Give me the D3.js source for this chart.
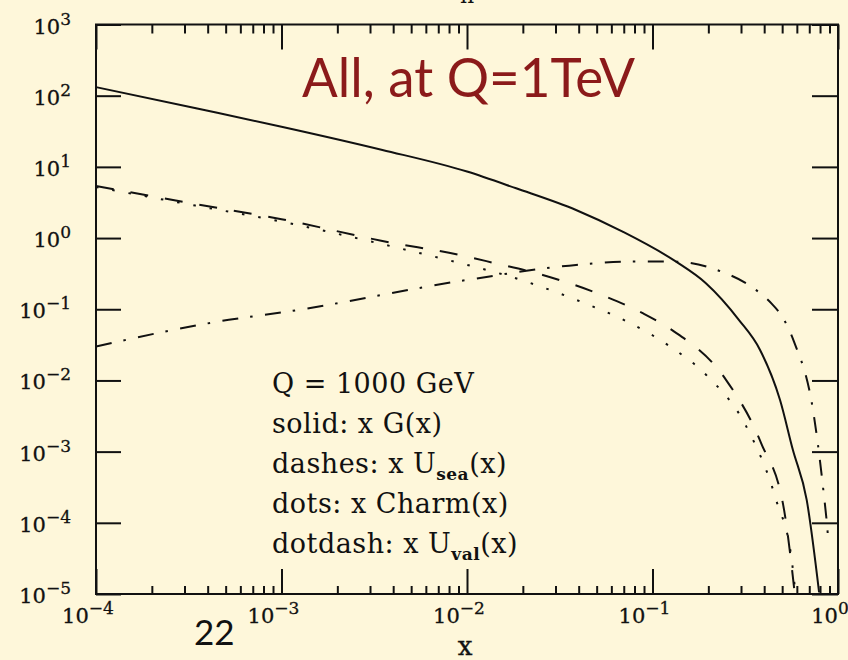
<!DOCTYPE html>
<html>
<head>
<meta charset="utf-8">
<script src="https://cdn.jsdelivr.net/npm/d3@7"></script>
<style>
 body { margin: 0; background: #fef7da; }
 svg { display: block; }
</style>
</head>
<body>
<div id="chart"></div>
<script>
// parton densities at Q = 1 TeV (x, x*f(x))
var gluonX   = [1e-4, 3.46e-4, 1e-3, 3.5e-3, 1e-2, 0.0184, 0.0387, 0.069, 0.134, 0.194, 0.292, 0.380, 0.487, 0.571, 0.678, 0.791];
var gluonY   = [132, 66.5, 36.7, 17.3, 8.6, 5.0, 2.48, 1.23, 0.466, 0.232, 0.071, 0.0268, 5.3e-3, 1.06e-3, 2.1e-4, 1.05e-5];

var useaX    = [1e-4, 3.46e-4, 1e-3, 3.5e-3, 1e-2, 0.0138, 0.0256, 0.0561, 0.0885, 0.127, 0.249, 0.385, 0.512, 0.585];
var useaY    = [5.4, 3.0, 1.84, 0.91, 0.55, 0.45, 0.303, 0.150, 0.088, 0.0512, 0.0102, 1.32e-3, 1.52e-4, 1e-5];

var charmX   = [1e-4, 3.46e-4, 1e-3, 3.5e-3, 1e-2, 0.0162, 0.0422, 0.0738, 0.123, 0.197, 0.319, 0.464, 0.565, 0.59];
var charmY   = [5.2, 2.85, 1.70, 0.82, 0.42, 0.30, 0.124, 0.066, 0.0305, 0.0116, 2.3e-3, 2.1e-4, 2.8e-5, 1e-5];

var uvalX    = [1e-4, 5.2e-4, 1e-3, 1e-2, 0.0387, 0.0785, 0.134, 0.228, 0.361, 0.44, 0.505, 0.579, 0.733, 0.83, 0.88, 0.89];
var uvalY    = [0.030, 0.071, 0.090, 0.258, 0.42, 0.47, 0.466, 0.348, 0.187, 0.119, 0.0755, 0.035, 3.85e-3, 3.2e-4, 7.2e-5, 4.9e-5];

// tick labels (exponents of ten)
var xExponents = [-4, -3, -2, -1, 0];
var yExponents = [3, 2, 1, 0, -1, -2, -3, -4, -5];

var legendLines = [
 ['Q = 1000 GeV', null, ''],
 ['solid: x G(x)', null, ''],
 ['dashes: x U', 'sea', '(x)'],
 ['dots: x Charm(x)', null, ''],
 ['dotdash: x U', 'val', '(x)']
];

var W = 848, H = 660;
// plot box ('top' is taken by window.top, so prefixed names)
var boxLeft = 96, boxRight = 838, boxTop = 24.5, boxBottom = 594;
var serif = '"DejaVu Serif", serif';
var ink = '#111';

var svg = d3.select('#chart').append('svg').attr('width', W).attr('height', H);
svg.append('rect').attr('width', W).attr('height', H).attr('fill', '#fef7da');

var x = d3.scaleLog().domain([1e-4, 1]).range([boxLeft, boxRight]);
var y = d3.scaleLog().domain([1e-5, 1e3]).range([boxBottom, boxTop]);

var majorX = xExponents.map(function(e){ return Math.pow(10, e); });
var minorX = x.ticks().filter(function(v){ return Math.abs(Math.log10(v) - Math.round(Math.log10(v))) > 1e-6; });
var majorY = yExponents.map(function(e){ return Math.pow(10, e); });

function tidy(g)
{
 g.select('.domain').remove();
 g.selectAll('line').attr('stroke', ink).attr('stroke-width', 2);
 g.selectAll('text').remove();
}

// bottom ticks point up, top ticks point down
svg.append('g').attr('transform', 'translate(0,' + boxBottom + ')')
 .call(d3.axisTop(x).tickValues(majorX).tickSize(25)).call(tidy);
svg.append('g').attr('transform', 'translate(0,' + boxBottom + ')')
 .call(d3.axisTop(x).tickValues(minorX).tickSize(8)).call(tidy);
svg.append('g').attr('transform', 'translate(0,' + boxTop + ')')
 .call(d3.axisBottom(x).tickValues(majorX).tickSize(25)).call(tidy);
svg.append('g').attr('transform', 'translate(0,' + boxTop + ')')
 .call(d3.axisBottom(x).tickValues(minorX).tickSize(9)).call(tidy);
// left and right ticks, decades only
svg.append('g').attr('transform', 'translate(' + boxLeft + ',0)')
 .call(d3.axisRight(y).tickValues(majorY).tickSize(25)).call(tidy);
svg.append('g').attr('transform', 'translate(' + boxRight + ',0)')
 .call(d3.axisLeft(y).tickValues(majorY).tickSize(26)).call(tidy);

// frame
svg.append('rect').attr('x', boxLeft).attr('y', boxTop)
 .attr('width', boxRight - boxLeft).attr('height', boxBottom - boxTop)
 .attr('fill', 'none').attr('stroke', ink).attr('stroke-width', 2);

function expLabel(sel, e)
{
 sel.append('tspan').text('10');
 sel.append('tspan').attr('dy', -9).attr('font-size', 17)
  .text(e < 0 ? '\u2212' + (-e) : '' + e);
}

// y tick labels
yExponents.forEach(function(e){
 var t = svg.append('text').attr('x', 71).attr('y', y(Math.pow(10, e)) + 9)
  .attr('text-anchor', 'end').attr('font-family', serif).attr('font-size', 21)
  .attr('fill', ink).attr('stroke', ink).attr('stroke-width', 0.3);
 expLabel(t, e);
});
// x tick labels
xExponents.forEach(function(e){
 var t = svg.append('text').attr('x', x(Math.pow(10, e)) - 8).attr('y', 623)
  .attr('text-anchor', 'middle').attr('font-family', serif).attr('font-size', 21)
  .attr('fill', ink).attr('stroke', ink).attr('stroke-width', 0.3);
 expLabel(t, e);
});

// axis title
svg.append('text').attr('x', 465).attr('y', 655).attr('text-anchor', 'middle')
 .attr('font-family', serif).attr('font-size', 26).attr('fill', ink)
 .attr('stroke', ink).attr('stroke-width', 0.4).text('x');
// cut off label at the very top
svg.append('text').attr('x', 467).attr('y', 3).attr('text-anchor', 'middle')
 .attr('font-family', serif).attr('font-size', 22).attr('fill', ink).text('n');

// curves
var line = d3.line().x(function(d){ return x(d[0]); }).y(function(d){ return y(d[1]); })
 .curve(d3.curveMonotoneX);
var curves = [
 [gluonX, gluonY, null],
 [useaX, useaY, '18,17'],
 [charmX, charmY, '2.5,14'],
 [uvalX, uvalY, '16,12,2.5,12.5']
];
var plot = svg.append('g');
curves.forEach(function(c){
 plot.append('path').datum(d3.zip(c[0], c[1]))
  .attr('d', line).attr('fill', 'none').attr('stroke', ink).attr('stroke-width', 2)
  .attr('stroke-dasharray', c[2]);
});

// legend text
legendLines.forEach(function(l, i){
 var t = svg.append('text').attr('x', 272).attr('y', 393 + i * 40)
  .attr('font-family', serif).attr('font-size', 27).attr('fill', ink)
  .attr('letter-spacing', 0.5).attr('xml:space', 'preserve');
 t.append('tspan').text(l[0]);
 if(l[1])
 {
  t.append('tspan').attr('dy', 7).attr('font-size', 17).attr('font-weight', 'bold').text(l[1]);
  t.append('tspan').attr('dy', -7).text(l[2]);
 }
});

// slide title and page number
svg.append('text').attr('x', 302).attr('y', 97)
 .attr('font-family', 'Lato, sans-serif').attr('font-size', 54).attr('fill', '#8b1a1a')
 .attr('textLength', 333).attr('lengthAdjust', 'spacingAndGlyphs')
 .text('All, at Q=1TeV');
svg.append('text').attr('x', 194).attr('y', 645)
 .attr('font-family', 'Lato, sans-serif').attr('font-size', 35).attr('fill', ink)
 .text('22');
</script>
</body>
</html>
